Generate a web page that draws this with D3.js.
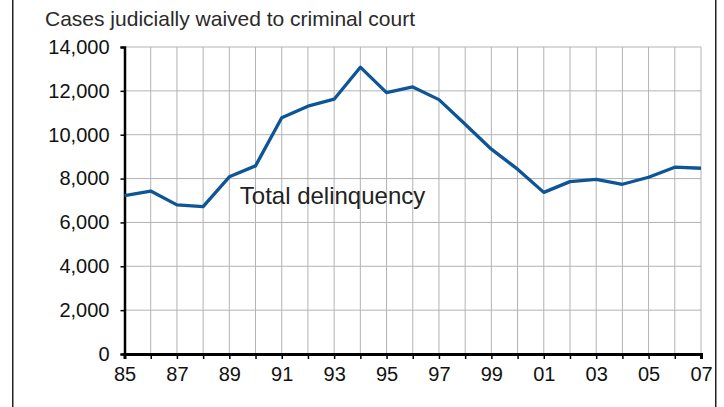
<!DOCTYPE html>
<html>
<head>
<meta charset="utf-8">
<script src="https://cdn.jsdelivr.net/npm/d3@7"></script>
<style>
  body { margin: 0; background: #fff; }
  svg { display: block; font-family: "Liberation Sans", Arial, sans-serif; }
</style>
</head>
<body>
<svg id="chart" width="724" height="407"></svg>
<script>
"use strict";

// years 1985-2007, shown as two-digit labels
const years = d3.range(1985, 2008);
const waived = [7220, 7430, 6800, 6720, 8080, 8580, 10770, 11300, 11620, 13080,
                11920, 12180, 11600, 10480, 9340, 8430, 7370, 7860, 7960, 7740,
                8060, 8520, 8470];
const yTicks = [0, 2000, 4000, 6000, 8000, 10000, 12000, 14000];
const xLabelYears = years.filter((d, i) => i % 2 === 0);

const titleText = "Cases judicially waived to criminal court";
const seriesLabel = "Total delinquency";

const svg = d3.select("#chart");
const margin = {left: 124.5, right: 23, top: 47, bottom: 53};
const width = 724 - margin.left - margin.right;
const height = 407 - margin.top - margin.bottom;

// frame lines on both sides
svg.append("rect").attr("x", 12).attr("y", 0).attr("width", 1.5).attr("height", 407)
    .attr("fill", "#222");
svg.append("rect").attr("x", 715).attr("y", 0).attr("width", 1.5).attr("height", 407)
    .attr("fill", "#222");

const x = d3.scaleLinear().domain([1985, 2007]).range([0, width]);
const y = d3.scaleLinear().domain([0, 14000]).range([height, 0]);

const g = svg.append("g").attr("transform", "translate(" + margin.left + "," + margin.top + ")");

// grid
g.append("g").selectAll("line.vg")
    .data(years)
    .enter().append("line")
    .attr("x1", d => x(d)).attr("x2", d => x(d))
    .attr("y1", 0).attr("y2", height)
    .attr("stroke", "#b3b3b3").attr("stroke-width", 1);
g.append("g").selectAll("line.hg")
    .data(yTicks)
    .enter().append("line")
    .attr("x1", 0).attr("x2", width)
    .attr("y1", d => y(d)).attr("y2", d => y(d))
    .attr("stroke", "#b3b3b3").attr("stroke-width", 1);

// y axis
const yAxis = g.append("g")
    .call(d3.axisLeft(y).tickValues(yTicks).tickSize(4).tickPadding(11)
        .tickFormat(d3.format(",")));
yAxis.select(".domain").attr("stroke", "#000").attr("stroke-width", 2.5);
yAxis.selectAll(".tick line").attr("stroke", "#000").attr("stroke-width", 1.5);
yAxis.selectAll("text").attr("font-size", 20).attr("fill", "#111")
    .attr("font-family", "Liberation Sans, Arial, sans-serif");

// x axis
const xAxis = g.append("g").attr("transform", "translate(0," + height + ")")
    .call(d3.axisBottom(x).tickValues(years).tickSize(5).tickPadding(8)
        .tickFormat(d => xLabelYears.includes(d) ? String(d).slice(2) : ""));
xAxis.select(".domain").attr("stroke", "#000").attr("stroke-width", 3);
xAxis.selectAll(".tick line").attr("stroke", "#000").attr("stroke-width", 1.5);
xAxis.selectAll("text").attr("font-size", 20).attr("fill", "#111")
    .attr("font-family", "Liberation Sans, Arial, sans-serif");

// series
const line = d3.line()
    .x((d, i) => x(years[i]))
    .y(d => y(d));
g.append("path")
    .datum(waived)
    .attr("d", line)
    .attr("fill", "none")
    .attr("stroke", "#0d5596")
    .attr("stroke-width", 3.3)
    .attr("stroke-linejoin", "round");

// labels
svg.append("text")
    .attr("x", 45).attr("y", 26)
    .attr("font-size", 21).attr("fill", "#2a2a2a")
    .text(titleText);
g.append("text")
    .attr("x", x(1989.4)).attr("y", y(6840))
    .attr("font-size", 24).attr("fill", "#222")
    .text(seriesLabel);
</script>
</body>
</html>
